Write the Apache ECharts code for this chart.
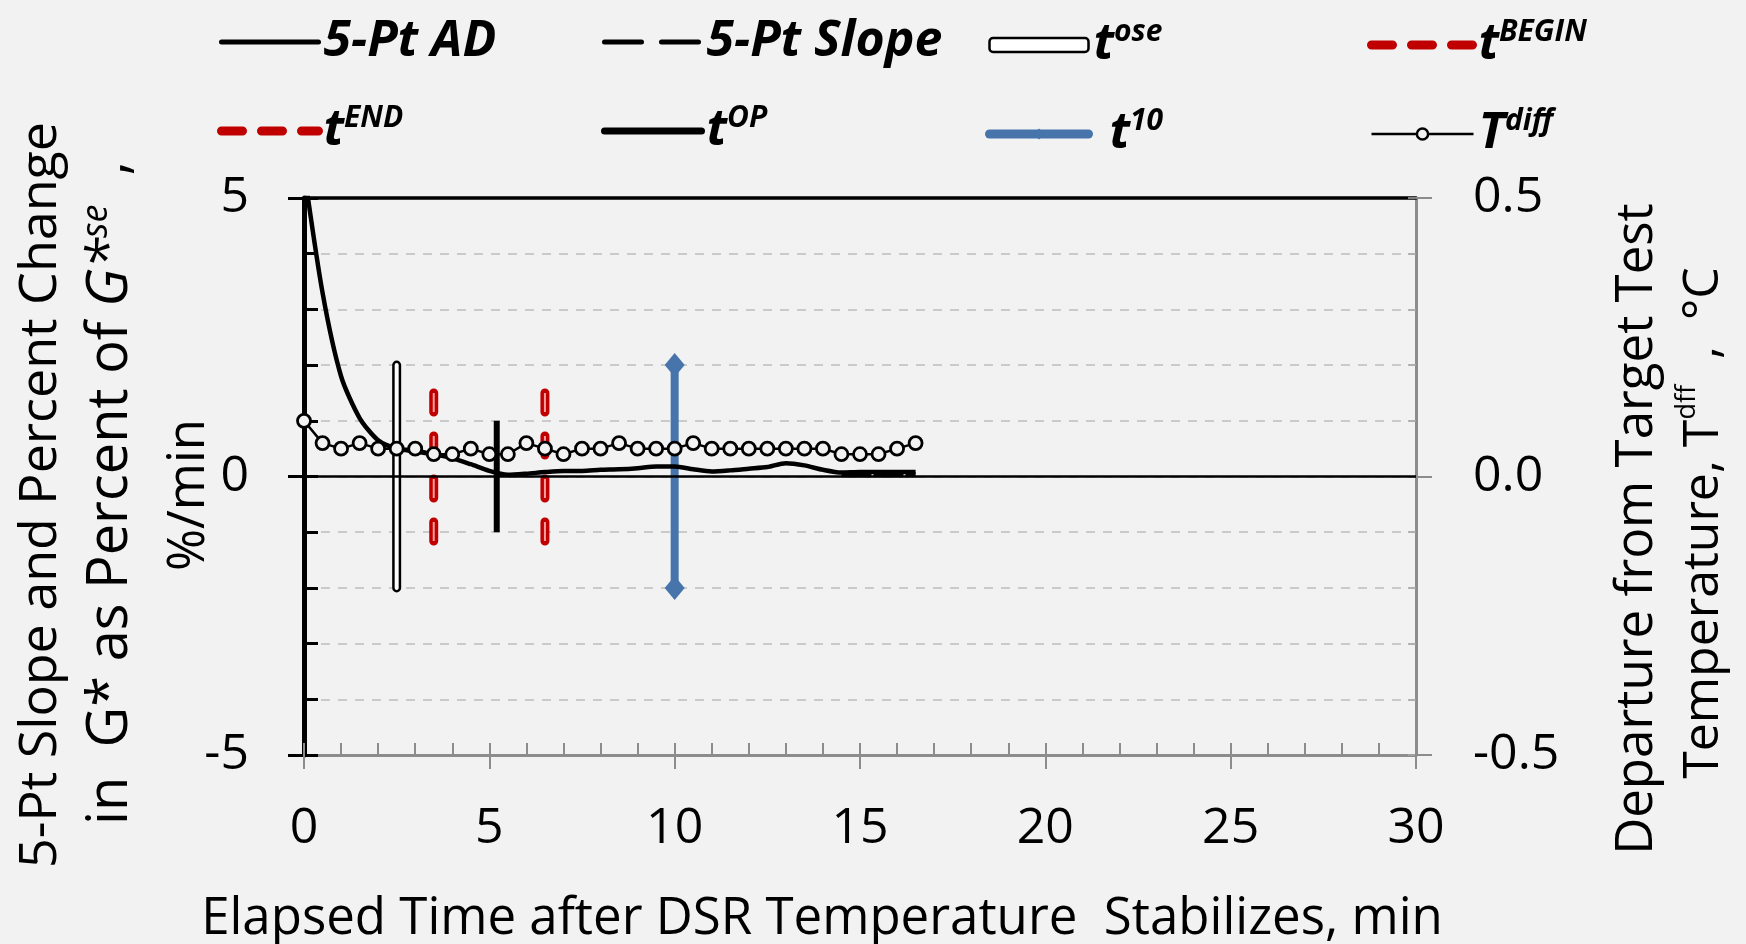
<!DOCTYPE html>
<html>
<head>
<meta charset="utf-8">
<script src="https://cdn.jsdelivr.net/npm/echarts@6/dist/echarts.min.js"></script>
<style>
html,body{margin:0;padding:0;background:#f2f2f2;}
#chart{width:1746px;height:944px;}
</style>
</head>
<body>
<div id="chart"></div>
<script>
// ---------- data ----------
const elapsedMin = [0,0.5,1,1.5,2,2.5,3,3.5,4,4.5,5,5.5,6,6.5,7,7.5,8,8.5,9,9.5,10,10.5,11,11.5,12,12.5,13,13.5,14,14.5,15,15.5,16,16.5];
const ad5pt = [5.5,3.3,1.8,1.05,0.65,0.5,0.45,0.4,0.33,0.22,0.1,0.03,0.05,0.08,0.1,0.1,0.12,0.13,0.15,0.18,0.18,0.13,0.09,0.11,0.14,0.17,0.24,0.2,0.12,0.07,0.08,0.08,0.08,0.08];
const tdiff = [0.10,0.06,0.05,0.06,0.05,0.05,0.05,0.04,0.04,0.05,0.04,0.04,0.06,0.05,0.04,0.05,0.05,0.06,0.05,0.05,0.05,0.06,0.05,0.05,0.05,0.05,0.05,0.05,0.05,0.04,0.04,0.04,0.05,0.06];
const slopeMin = [14.5,15,15.5,16,16.5];
const slope5pt = [0.03,0.03,0.03,0.03,0.03];

const tOseX = 2.5,   tOseSpan = [-2, 2];
const tBeginX = 3.5, tBeginSpan = [1.5, -1.5];
const tEndX = 6.5,   tEndSpan = [1.5, -1.5];
const tOpX = 5.2,    tOpSpan = [1, -1];
const t10X = 10,     t10Span = [2, -2];

const xRange = [0, 30], xStep = 5;
const yLeftRange = [-5, 5], yLeftStep = 5;
const yRightRange = [-0.5, 0.5], yRightStep = 0.5;

const legendLabels = {
  '5-Pt AD': '{b|5-Pt AD}',
  '5-Pt Slope': '{b|5-Pt Slope}',
  'tose': '{b|t}{s|ose}',
  'tBEGIN': '{b|t}{s|BEGIN}',
  'tEND': '{b|t}{s|END}',
  'tOP': '{b|t}{s|OP}',
  't10': '{bp|t}{s|10}',
  'Tdiff': '{b|T}{s|diff}'
};

// ---------- helpers ----------
const FONT = "'Open Sans', 'DejaVu Sans', sans-serif";
const zip = (xs, ys) => xs.map((x, i) => [x, ys[i]]);
const vline = (x, span) => span.map(y => [x, y]);
const RED = '#c00000', BLUE = '#4674ab';

const legendText = {
  fontFamily: FONT,
  rich: {
    b: {fontFamily: FONT, fontSize: 50, fontWeight: 'bold', fontStyle: 'italic', color: '#000', lineHeight: 56},
    bp: {fontFamily: FONT, fontSize: 50, fontWeight: 'bold', fontStyle: 'italic', color: '#000', lineHeight: 56, padding: [0,0,0,16]},
    s: {fontFamily: FONT, fontSize: 30, fontWeight: 'bold', fontStyle: 'italic', color: '#000', lineHeight: 34, verticalAlign: 'top'}
  }
};
function mkLegend(left, width, data) {
  return {
    orient: 'vertical', left: left, top: 17, padding: 0, itemGap: 36,
    itemWidth: width, itemHeight: 14, selectedMode: false,
    formatter: n => legendLabels[n], textStyle: legendText, data: data
  };
}
const hideSym = {opacity: 0};

const chart = echarts.init(document.getElementById('chart'));
const option = {
  backgroundColor: '#f2f2f2',
  animation: false,
  grid: {left: 304, right: 330, top: 198, bottom: 189, containLabel: false},
  legend: [
    mkLegend(217, 97, [
      {name: '5-Pt AD', itemStyle: hideSym, lineStyle: {width: 5, color: '#000', type: 'solid', cap: 'round'}},
      {name: 'tEND', itemStyle: hideSym, lineStyle: {width: 9, color: RED, type: [21, 19], cap: 'round'}}
    ]),
    mkLegend(601, 97, [
      {name: '5-Pt Slope', itemStyle: hideSym, lineStyle: {width: 5, color: '#000', type: [37, 20], cap: 'round'}},
      {name: 'tOP', itemStyle: hideSym, lineStyle: {width: 7, color: '#000', type: 'solid', cap: 'round'}}
    ]),
    mkLegend(985, 99, [
      {name: 'tose', icon: 'roundRect', itemStyle: {color: '#ffffff', borderColor: '#000', borderWidth: 2.5, opacity: 1}},
      {name: 't10', itemStyle: {color: BLUE, opacity: 1}, lineStyle: {width: 9, color: BLUE, type: 'solid', cap: 'round'}}
    ]),
    mkLegend(1367, 102, [
      {name: 'tBEGIN', itemStyle: hideSym, lineStyle: {width: 9, color: RED, type: [21, 19], cap: 'round'}},
      {name: 'Tdiff', itemStyle: {color: '#f2f2f2', borderColor: '#000', borderWidth: 2.5, opacity: 1}, lineStyle: {width: 2.5, color: '#000', type: 'solid'}}
    ])
  ],
  xAxis: [
    {
      type: 'value', min: xRange[0], max: xRange[1], interval: xStep, position: 'bottom',
      axisLine: {show: true, onZero: false, lineStyle: {color: '#8c8c8c', width: 3}},
      axisTick: {show: true, length: 14, lineStyle: {color: '#8c8c8c', width: 2}},
      axisLabel: {fontFamily: FONT, fontSize: 50, color: '#000', margin: 49},
      splitLine: {show: false}
    },
    {
      type: 'value', min: xRange[0], max: xRange[1], interval: 1, position: 'bottom',
      axisLine: {show: false, onZero: false},
      axisTick: {show: true, inside: true, length: 12, lineStyle: {color: '#8c8c8c', width: 2}},
      axisLabel: {show: false}, splitLine: {show: false}
    },
    {
      type: 'value', min: xRange[0], max: xRange[1], interval: xStep, position: 'top',
      axisLine: {show: true, onZero: false, lineStyle: {color: '#000', width: 3.5}},
      axisTick: {show: false}, axisLabel: {show: false}, splitLine: {show: false}
    }
  ],
  yAxis: [
    {
      type: 'value', min: yLeftRange[0], max: yLeftRange[1], interval: yLeftStep, position: 'left',
      axisLine: {show: true, onZero: false, lineStyle: {color: '#000', width: 5}},
      axisTick: {show: true, length: 16, lineStyle: {color: '#000', width: 3}},
      axisLabel: {fontFamily: FONT, fontSize: 50, color: '#000', margin: 55},
      splitLine: {show: false}
    },
    {
      type: 'value', min: yRightRange[0], max: yRightRange[1], interval: yRightStep, position: 'right',
      axisLine: {show: true, onZero: false, lineStyle: {color: '#8c8c8c', width: 3}},
      axisTick: {show: true, length: 16, lineStyle: {color: '#8c8c8c', width: 2}},
      axisLabel: {fontFamily: FONT, fontSize: 50, color: '#000', margin: 57, formatter: v => v.toFixed(1)},
      splitLine: {show: false}
    },
    {
      type: 'value', min: yLeftRange[0], max: yLeftRange[1], interval: 1, position: 'left',
      axisLine: {show: false, onZero: false},
      axisTick: {show: true, inside: true, length: 14, lineStyle: {color: '#000', width: 3}},
      axisLabel: {show: false},
      splitLine: {show: true, lineStyle: {color: '#bdbdbd', width: 1.5, type: [9, 8]}}
    },
    {
      type: 'value', min: yRightRange[0], max: yRightRange[1], interval: 0.1, position: 'right',
      axisLine: {show: false, onZero: false},
      axisTick: {show: true, inside: true, length: 8, lineStyle: {color: '#a6a6a6', width: 1.5}},
      axisLabel: {show: false}, splitLine: {show: false}
    }
  ],
  series: [
    {
      name: 'tose', type: 'line', z: 2, data: vline(tOseX, tOseSpan), symbol: 'none',
      lineStyle: {color: '#000', width: 9, cap: 'round'}, silent: true
    },
    {
      name: 'tose-inner', type: 'line', z: 3, data: vline(tOseX, tOseSpan), symbol: 'none',
      lineStyle: {color: '#ffffff', width: 4, cap: 'round'}, silent: true
    },
    {
      name: 'tBEGIN', type: 'line', z: 2, data: vline(tBeginX, tBeginSpan), symbol: 'none',
      lineStyle: {color: RED, width: 9, type: [19, 24], cap: 'round'}, silent: true
    },
    {
      name: 'tBEGIN-hl', type: 'line', z: 3, data: vline(tBeginX, tBeginSpan), symbol: 'none',
      lineStyle: {color: 'rgba(255,185,185,0.85)', width: 2, type: [19, 24], cap: 'butt'}, silent: true
    },
    {
      name: 'tEND', type: 'line', z: 2, data: vline(tEndX, tEndSpan), symbol: 'none',
      lineStyle: {color: RED, width: 9, type: [19, 24], cap: 'round'}, silent: true
    },
    {
      name: 'tEND-hl', type: 'line', z: 3, data: vline(tEndX, tEndSpan), symbol: 'none',
      lineStyle: {color: 'rgba(255,185,185,0.85)', width: 2, type: [19, 24], cap: 'butt'}, silent: true
    },
    {
      name: 'tOP', type: 'line', z: 2, data: vline(tOpX, tOpSpan), symbol: 'none',
      lineStyle: {color: '#000', width: 6}, silent: true
    },
    {
      name: 't10', type: 'line', z: 2, data: vline(t10X, t10Span), symbol: 'diamond', symbolSize: [20, 24],
      itemStyle: {color: BLUE}, lineStyle: {color: BLUE, width: 8}, silent: true
    },
    {
      name: '5-Pt AD', type: 'line', z: 4, data: zip(elapsedMin, ad5pt), symbol: 'none', smooth: 0.25,
      lineStyle: {color: '#000', width: 4.5}, silent: true,
      markLine: {
        silent: true, symbol: 'none', label: {show: false},
        lineStyle: {color: '#000', type: 'solid', width: 2.5},
        data: [{yAxis: 0}]
      }
    },
    {
      name: '5-Pt Slope', type: 'line', z: 4, data: zip(slopeMin, slope5pt), symbol: 'none',
      lineStyle: {color: '#000', width: 5, type: [30, 2]}, silent: true
    },
    {
      name: 'Tdiff', type: 'line', z: 5, yAxisIndex: 1, data: zip(elapsedMin, tdiff),
      symbol: 'circle', symbolSize: 13,
      itemStyle: {color: '#f2f2f2', borderColor: '#000', borderWidth: 2.8},
      lineStyle: {color: '#000', width: 2.5}, silent: true
    }
  ],
  graphic: [
    {
      type: 'text', x: 822, y: 919,
      style: {text: 'Elapsed Time after DSR Temperature  Stabilizes, min', fontFamily: FONT, fontSize: 51, fill: '#000', align: 'center', verticalAlign: 'middle'}
    },
    {
      type: 'text', x: 41, y: 495, rotation: Math.PI / 2,
      style: {text: '5-Pt Slope and Percent Change', fontFamily: FONT, fontSize: 52, fill: '#000', align: 'center', verticalAlign: 'middle'}
    },
    {
      type: 'text', x: 111, y: 493, rotation: Math.PI / 2,
      style: {
        text: '{n|in  G* as Percent of }{i|G*}{s|se}{n|  ,}', align: 'center', verticalAlign: 'middle',
        rich: {
          n: {fontFamily: FONT, fontSize: 56, fill: '#000', lineHeight: 64},
          i: {fontFamily: FONT, fontSize: 56, fontStyle: 'italic', fill: '#000', lineHeight: 64},
          s: {fontFamily: FONT, fontSize: 36, fontStyle: 'italic', fill: '#000', lineHeight: 40, verticalAlign: 'top'}
        }
      }
    },
    {
      type: 'text', x: 189, y: 495, rotation: Math.PI / 2,
      style: {text: '%/min', fontFamily: FONT, fontSize: 51, fill: '#000', align: 'center', verticalAlign: 'middle'}
    },
    {
      type: 'text', x: 1637, y: 529, rotation: Math.PI / 2,
      style: {text: 'Departure from Target Test', fontFamily: FONT, fontSize: 51, fill: '#000', align: 'center', verticalAlign: 'middle'}
    },
    {
      type: 'text', x: 1704, y: 523, rotation: Math.PI / 2,
      style: {
        text: '{n|Temperature, T}{s|dff}{n|  ,  °C}', align: 'center', verticalAlign: 'middle',
        rich: {
          n: {fontFamily: FONT, fontSize: 50, fill: '#000', lineHeight: 60},
          s: {fontFamily: FONT, fontSize: 27, fill: '#000', lineHeight: 32, verticalAlign: 'top'}
        }
      }
    }
  ]
};
chart.setOption(option);
</script>
</body>
</html>
